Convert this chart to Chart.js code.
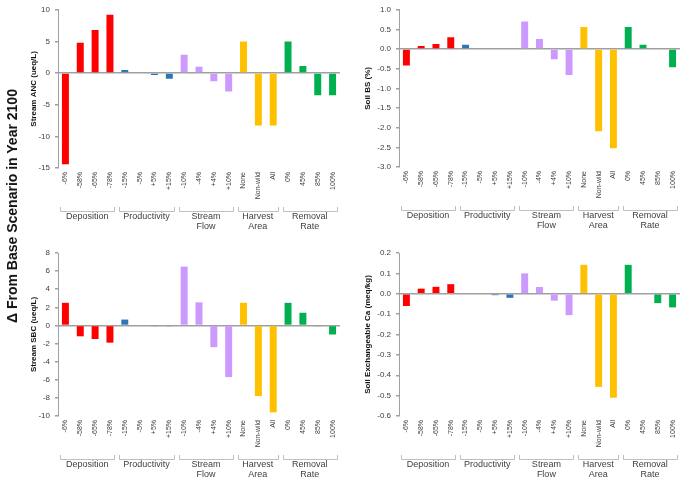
<!DOCTYPE html>
<html><head><meta charset="utf-8">
<script src="https://cdn.jsdelivr.net/npm/chart.js@4"></script>
<style>
html,body{margin:0;padding:0;background:#fff;width:685px;height:479px;overflow:hidden}
canvas{position:absolute}
#ylab{position:absolute;left:12px;top:206px;transform:translate(-50%,-50%) rotate(-90deg);font:bold 14px "Liberation Sans",Arial,sans-serif;white-space:nowrap;color:#111}
</style></head><body>
<canvas id="c1" width="345" height="240" style="left:0;top:0"></canvas>
<canvas id="c2" width="340" height="240" style="left:345px;top:0"></canvas>
<canvas id="c3" width="345" height="239" style="left:0;top:240px"></canvas>
<canvas id="c4" width="340" height="239" style="left:345px;top:240px"></canvas>
<div id="ylab">Δ From Base Scenario in Year 2100</div>
<script>
const categories = ['-6%','-58%','-65%','-78%','-15%','-5%','+5%','+15%','-10%','-4%','+4%','+10%','None','Non-wild','All','0%','45%','85%','100%'];
const groupNames = [['Deposition'],['Productivity'],['Stream','Flow'],['Harvest','Area'],['Removal','Rate']];
const groupSizes = [4,4,4,3,4];
const groupColors = ['#ff0000','#2e75b6','#cc99ff','#ffc000','#00b050'];
const streamANC = [-14.4,4.8,6.8,9.2,0.5,0,-0.3,-0.9,2.9,1.0,-1.3,-2.9,5.0,-8.3,-8.3,5.0,1.1,-3.5,-3.5];
const soilBS = [-0.42,0.08,0.13,0.30,0.11,0,0,0,0.70,0.26,-0.26,-0.66,0.56,-2.09,-2.52,0.56,0.11,0,-0.46];
const streamSBC = [2.5,-1.2,-1.5,-1.9,0.65,0,-0.1,-0.1,6.5,2.55,-2.4,-5.7,2.5,-7.8,-9.6,2.5,1.4,-0.1,-1.0];
const soilCa = [-0.06,0.025,0.034,0.047,0,0,-0.007,-0.02,0.10,0.033,-0.034,-0.105,0.142,-0.457,-0.51,0.142,0,-0.046,-0.067];

const barColors = [];
groupSizes.forEach((n,g)=>{for(let i=0;i<n;i++) barColors.push(groupColors[g]);});

const FONT = '"Liberation Sans", Arial, sans-serif';

const bracketPlugin = {
  id:'brackets',
  afterDraw(chart){
    const xs = chart.scales.x, ctx = chart.ctx;
    const bottom = chart.chartArea.bottom;
    const half = (xs.getPixelForValue(1)-xs.getPixelForValue(0))/2;
    let idx = 0;
    ctx.save();
    groupSizes.forEach((n,g)=>{
      const x0 = xs.getPixelForValue(idx)-half+2;
      const x1 = xs.getPixelForValue(idx+n-1)+half-3;
      idx += n;
      ctx.strokeStyle = '#bfbfbf'; ctx.lineWidth = 1;
      ctx.beginPath();
      ctx.moveTo(Math.round(x0)+0.5, bottom+39);
      ctx.lineTo(Math.round(x0)+0.5, bottom+43.5);
      ctx.lineTo(Math.round(x1)+0.5, bottom+43.5);
      ctx.lineTo(Math.round(x1)+0.5, bottom+39);
      ctx.stroke();
      ctx.fillStyle = '#404040';
      ctx.font = '9px ' + FONT;
      ctx.textAlign = 'center'; ctx.textBaseline = 'middle';
      groupNames[g].forEach((t,k)=>ctx.fillText(t,(x0+x1)/2, bottom+49+k*10));
    });
    ctx.restore();
  }
};

function makeChart(id, values, title, yMin, yMax, step, decimals, padLeft, yWidth, padTop, xHeight){
  new Chart(document.getElementById(id), {
    type:'bar',
    data:{labels:categories, datasets:[{data:values, backgroundColor:barColors, borderWidth:0, barPercentage:0.47, categoryPercentage:1}]},
    options:{
      responsive:false, animation:false, devicePixelRatio:1,
      layout:{padding:{left:padLeft, right:1, top:padTop, bottom:0}},
      plugins:{legend:{display:false}, tooltip:{enabled:false}},
      scales:{
        x:{
          grid:{display:false, drawTicks:false},
          border:{display:false},
          ticks:{autoSkip:false, maxRotation:90, minRotation:90, padding:4, color:'#404040', font:{family:FONT, size:7}},
          afterFit(s){ s.height = xHeight; }
        },
        y:{
          min:yMin, max:yMax,
          border:{display:true, color:'#a0a0a0'},
          grid:{
            color:(c)=> (c.tick && Math.abs(c.tick.value)<1e-9) ? '#a0a0a0' : 'rgba(0,0,0,0)',
            tickColor:'#a0a0a0', tickLength:3, lineWidth:1.5
          },
          ticks:{stepSize:step, padding:5, color:'#404040', font:{family:FONT, size:8},
            callback:(v)=> decimals ? Number(v).toFixed(decimals) : String(Math.round(v))},
          title:{display:true, text:title, color:'#111', padding:0, font:{family:FONT, size:8, weight:'bold'}},
          afterFit(s){ s.width = yWidth; }
        }
      }
    },
    plugins:[bracketPlugin]
  });
}

makeChart('c1', streamANC, 'Stream ANC (ueq/L)', -15, 10, 5, 0, 29, 29, 3, 72);
makeChart('c2', soilBS, 'Soil BS (%)', -3, 1, 0.5, 1, 18, 36, 3, 73);
makeChart('c3', streamSBC, 'Stream SBC (ueq/L)', -10, 8, 2, 0, 29, 29, 13, 63);
makeChart('c4', soilCa, 'Soil Exchangeable Ca (meq/kg)', -0.6, 0.2, 0.1, 1, 18, 36, 13, 63);
</script>
</body></html>
